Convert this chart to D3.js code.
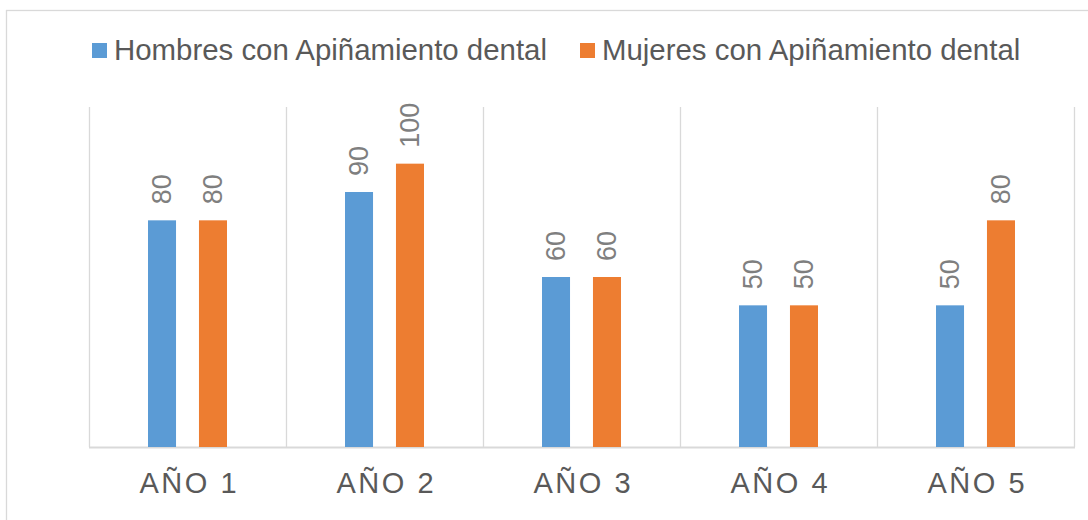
<!DOCTYPE html>
<meta charset="utf-8">
<style>
body { margin: 0; background: #fff; }
svg { display: block; font-family: "Liberation Sans", Arial, sans-serif; }
.grid line { stroke: #d9d9d9; stroke-width: 1.3px; }
.xaxis .domain { display: none; }
.xaxis text { fill: #595959; font-size: 29px; letter-spacing: 2.5px; }
.legend text { fill: #595959; font-size: 29.4px; }
.labels text { fill: #7f7f7f; font-size: 27px; }
</style>
<svg width="1088" height="520"></svg>
<script src="https://d3js.org/d3.v7.min.js"></script>
<script>

var categories = ["AÑO 1", "AÑO 2", "AÑO 3", "AÑO 4", "AÑO 5"];
var seriesNames = ["Hombres con Apiñamiento dental", "Mujeres con Apiñamiento dental"];
var hombres = [80, 90, 60, 50, 50];
var mujeres = [80, 100, 60, 50, 80];
var colors = ["#5b9bd5", "#ed7d31"];

var margin = {top: 107, left: 89, right: 14, bottom: 73};
var width = 1088, height = 520;

var svg = d3.select("svg");

// chart border
svg.append("rect")
	.attr("x", 6.5).attr("y", 10.5)
	.attr("width", 1100).attr("height", 600)
	.attr("fill", "none")
	.attr("stroke", "#d9d9d9")
	.attr("stroke-width", 1.3);

var x0 = d3.scaleBand()
	.domain(categories)
	.range([margin.left, width - margin.right])
	.padding(0);

var x1 = d3.scaleBand()
	.domain(seriesNames)
	.range([-39.5, 39.5])
	.paddingInner(0.45);

var y = d3.scaleLinear()
	.domain([0, 120])
	.range([height - margin.bottom, margin.top]);

var rows = categories.map(function(c, i) {
	return {cat: c, values: [
		{name: seriesNames[0], value: hombres[i], color: colors[0]},
		{name: seriesNames[1], value: mujeres[i], color: colors[1]}
	]};
});

// vertical separators between categories
var gx = categories.map(function(c) { return x0(c); }).concat([x0.range()[1]]);
var grid = svg.append("g").attr("class", "grid");
grid.selectAll("line.v")
	.data(gx)
	.enter().append("line")
		.attr("class", "v")
		.attr("x1", function(d) { return Math.round(d) + 0.5; })
		.attr("x2", function(d) { return Math.round(d) + 0.5; })
		.attr("y1", y(120))
		.attr("y2", y(0));
grid.append("line")
	.attr("x1", x0.range()[0])
	.attr("x2", x0.range()[1] + 1)
	.attr("y1", y(0) + 0.5)
	.attr("y2", y(0) + 0.5)
	.style("stroke-width", "2px");

var group = svg.append("g")
	.selectAll("g")
	.data(rows)
	.enter().append("g")
		.attr("transform", function(d) { return "translate(" + (x0(d.cat) + x0.bandwidth() / 2) + ",0)"; });

group.selectAll("rect")
	.data(function(d) { return d.values; })
	.enter().append("rect")
		.attr("x", function(d) { return x1(d.name); })
		.attr("width", x1.bandwidth())
		.attr("y", function(d) { return y(d.value); })
		.attr("height", function(d) { return y(0) - y(d.value); })
		.attr("fill", function(d) { return d.color; });

group.append("g").attr("class", "labels")
	.selectAll("text")
	.data(function(d) { return d.values; })
	.enter().append("text")
		.attr("transform", function(d) {
			return "translate(" + (x1(d.name) + x1.bandwidth() / 2) + "," + (y(d.value) - 16) + ") rotate(-90)";
		})
		.attr("dy", "0.35em")
		.text(function(d) { return d.value; });

var xAxis = svg.append("g")
	.attr("class", "xaxis")
	.attr("transform", "translate(0," + y(0) + ")")
	.call(d3.axisBottom(x0).tickSize(0).tickPadding(25));
xAxis.selectAll("text").attr("dy", "0.71em").attr("dx", "0.06em");

// legend
var legendX = [92, 580];
var legend = svg.append("g").attr("class", "legend")
	.selectAll("g")
	.data(seriesNames)
	.enter().append("g")
		.attr("transform", function(d, i) { return "translate(" + legendX[i] + ",43)"; });
legend.append("rect")
	.attr("width", 15).attr("height", 15)
	.attr("fill", function(d, i) { return colors[i]; });
legend.append("text")
	.attr("x", 22)
	.attr("y", 17)
	.text(function(d) { return d; });

</script>
